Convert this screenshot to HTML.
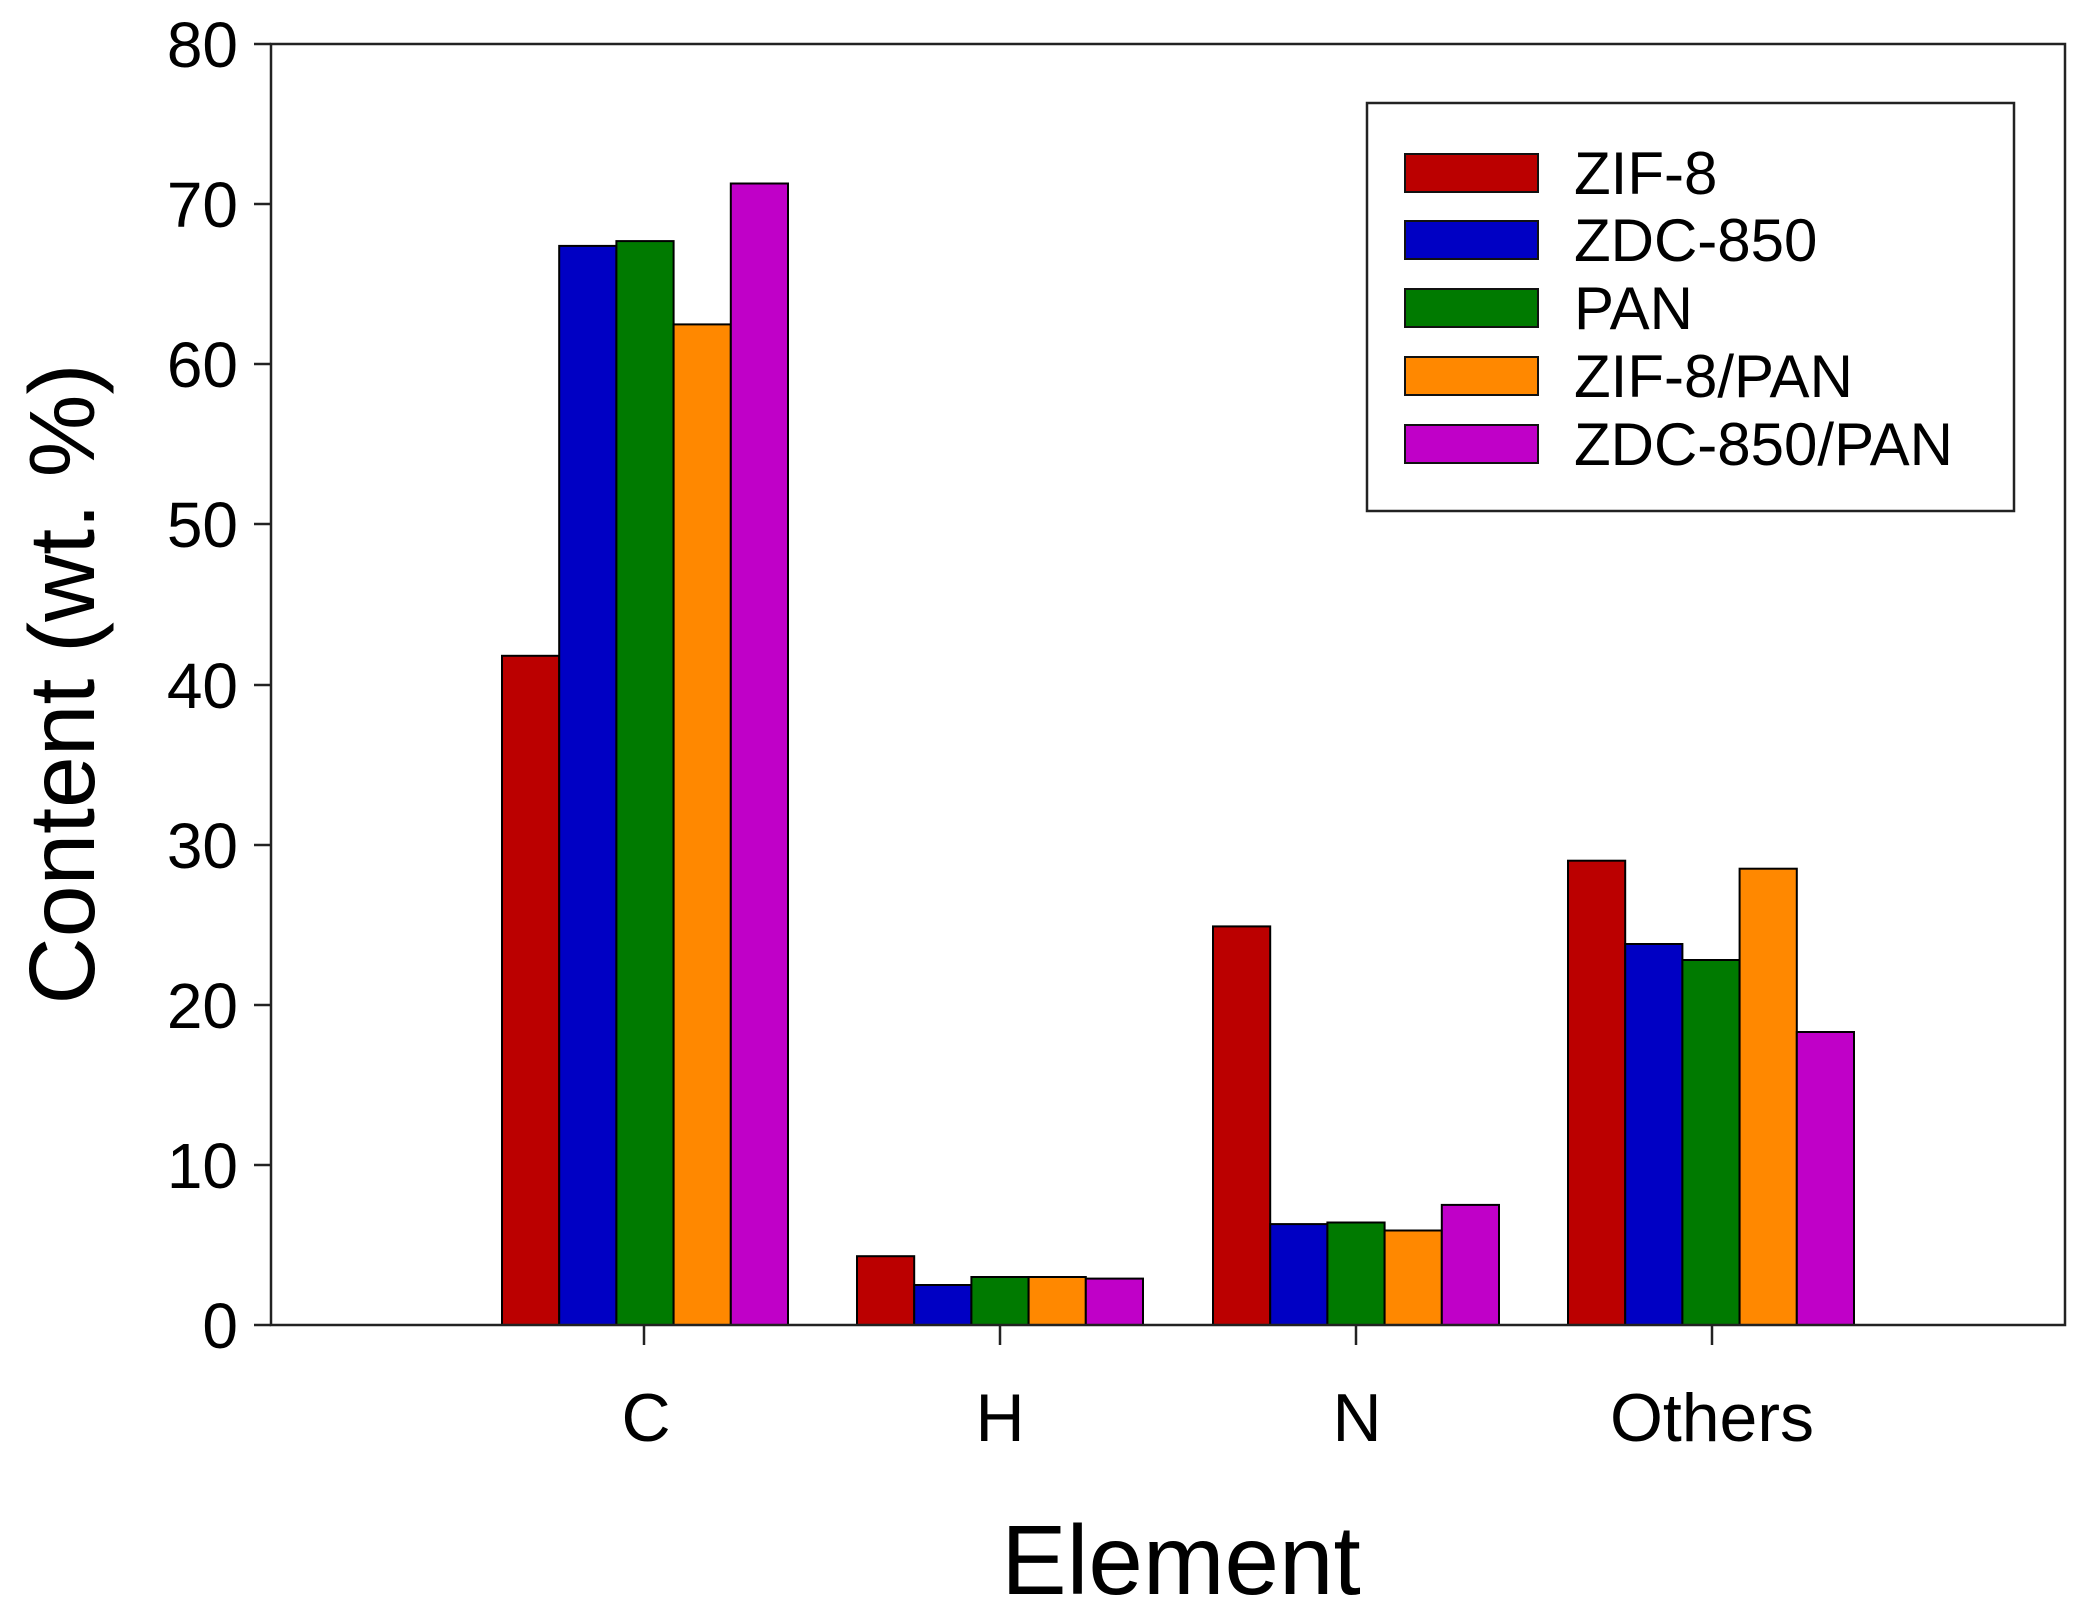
<!DOCTYPE html>
<html><head><meta charset="utf-8"><style>html,body{margin:0;padding:0;background:#fff}svg{display:block}text{font-family:"Liberation Sans",Arial,sans-serif;fill:#000}</style></head>
<body>
<svg width="2092" height="1619" viewBox="0 0 2092 1619" xmlns="http://www.w3.org/2000/svg">
<g stroke="#000" stroke-width="2">
<rect x="502" y="655.8" width="57.2" height="669.2" fill="#bb0000"/>
<rect x="559.2" y="245.9" width="57.2" height="1079.1" fill="#0000c4"/>
<rect x="616.4" y="241.1" width="57.2" height="1083.9" fill="#007a00"/>
<rect x="673.6" y="324.4" width="57.2" height="1000.6" fill="#ff8800"/>
<rect x="730.8" y="183.5" width="57.2" height="1141.5" fill="#c000c8"/>
<rect x="857" y="1256.2" width="57.2" height="68.8" fill="#bb0000"/>
<rect x="914.2" y="1285" width="57.2" height="40" fill="#0000c4"/>
<rect x="971.4" y="1277" width="57.2" height="48" fill="#007a00"/>
<rect x="1028.6" y="1277" width="57.2" height="48" fill="#ff8800"/>
<rect x="1085.8" y="1278.6" width="57.2" height="46.4" fill="#c000c8"/>
<rect x="1213" y="926.4" width="57.2" height="398.6" fill="#bb0000"/>
<rect x="1270.2" y="1224.1" width="57.2" height="100.9" fill="#0000c4"/>
<rect x="1327.4" y="1222.5" width="57.2" height="102.5" fill="#007a00"/>
<rect x="1384.6" y="1230.5" width="57.2" height="94.5" fill="#ff8800"/>
<rect x="1441.8" y="1204.9" width="57.2" height="120.1" fill="#c000c8"/>
<rect x="1568" y="860.7" width="57.2" height="464.3" fill="#bb0000"/>
<rect x="1625.2" y="944" width="57.2" height="381" fill="#0000c4"/>
<rect x="1682.4" y="960" width="57.2" height="365" fill="#007a00"/>
<rect x="1739.6" y="868.7" width="57.2" height="456.3" fill="#ff8800"/>
<rect x="1796.8" y="1032" width="57.2" height="293" fill="#c000c8"/>
</g>
<rect x="271" y="44" width="1794" height="1281" fill="none" stroke="#222" stroke-width="2.5"/>
<g stroke="#222" stroke-width="2.5">
<line x1="254" y1="44" x2="271" y2="44"/><line x1="254" y1="204" x2="271" y2="204"/><line x1="254" y1="364" x2="271" y2="364"/><line x1="254" y1="524" x2="271" y2="524"/><line x1="254" y1="685" x2="271" y2="685"/><line x1="254" y1="845" x2="271" y2="845"/><line x1="254" y1="1005" x2="271" y2="1005"/><line x1="254" y1="1165" x2="271" y2="1165"/><line x1="254" y1="1325" x2="271" y2="1325"/>
<line x1="644" y1="1325" x2="644" y2="1345"/><line x1="1000" y1="1325" x2="1000" y2="1345"/><line x1="1356" y1="1325" x2="1356" y2="1345"/><line x1="1712" y1="1325" x2="1712" y2="1345"/>
</g>
<g font-size="64" text-anchor="end">
<text x="238" y="67">80</text><text x="238" y="227">70</text><text x="238" y="387">60</text><text x="238" y="547">50</text><text x="238" y="708">40</text><text x="238" y="868">30</text><text x="238" y="1028">20</text><text x="238" y="1188">10</text><text x="238" y="1348">0</text>
</g>
<g font-size="68" text-anchor="middle">
<text x="646" y="1441">C</text><text x="1000" y="1441">H</text><text x="1357" y="1441">N</text><text x="1712" y="1441">Others</text>
</g>
<text x="1181" y="1594" font-size="98" text-anchor="middle">Element</text>
<text transform="translate(94,684) rotate(-90)" font-size="93" text-anchor="middle">Content (wt. %)</text>
<rect x="1367" y="103" width="647" height="408" fill="#fff" stroke="#222" stroke-width="2.5"/>
<g stroke="#111" stroke-width="2">
<rect x="1405" y="154" width="133" height="38" fill="#bb0000"/>
<rect x="1405" y="221" width="133" height="38" fill="#0000c4"/>
<rect x="1405" y="289" width="133" height="38" fill="#007a00"/>
<rect x="1405" y="357" width="133" height="38" fill="#ff8800"/>
<rect x="1405" y="425" width="133" height="38" fill="#c000c8"/>
</g>
<g font-size="60">
<text x="1574" y="194">ZIF-8</text><text x="1574" y="261">ZDC-850</text><text x="1574" y="329">PAN</text><text x="1574" y="397">ZIF-8/PAN</text><text x="1574" y="465">ZDC-850/PAN</text>
</g>
</svg>
</body></html>
